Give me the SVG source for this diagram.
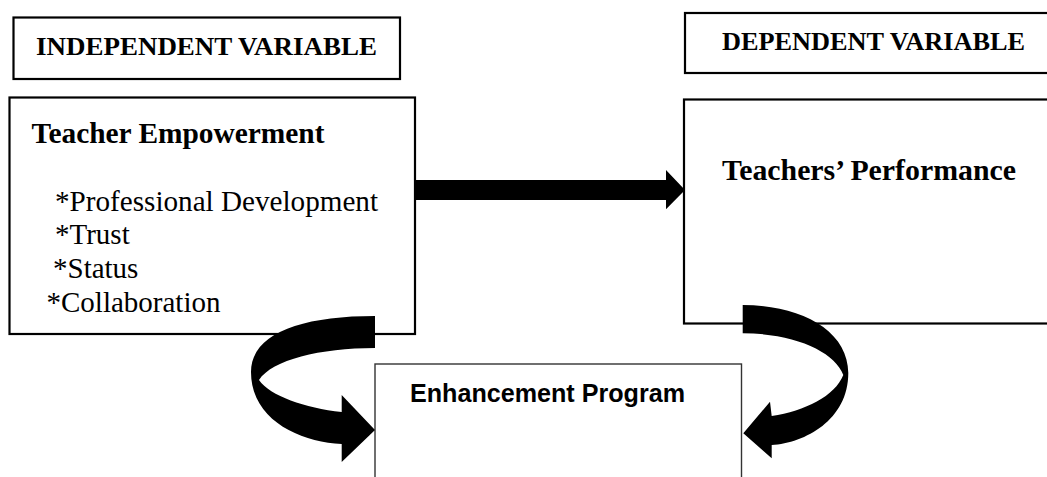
<svg xmlns="http://www.w3.org/2000/svg" width="1047" height="477" viewBox="0 0 1047 477">
<style>
.box{fill:#fff;stroke:#000;stroke-width:2.2}
.thin{fill:#fff;stroke:#333;stroke-width:1.4}
.hdr{font-family:"Liberation Serif","Times New Roman",serif;font-weight:bold;font-size:26px;fill:#000}
.ttl{font-family:"Liberation Serif","Times New Roman",serif;font-weight:bold;font-size:29px;fill:#000}
.itm{font-family:"Liberation Serif","Times New Roman",serif;font-size:29px;fill:#000}
.ep{font-family:"Liberation Sans",Arial,sans-serif;font-weight:bold;font-size:25px;fill:#000}
.arr{fill:#000;stroke:none}
</style>
<rect width="1047" height="477" fill="#fff"/>
<g id="iv-label">
<rect class="box" x="13.5" y="17.5" width="386.5" height="61.5"/>
<text class="hdr" x="36" y="55" textLength="341" lengthAdjust="spacingAndGlyphs">INDEPENDENT VARIABLE</text>
</g>
<g id="dv-label">
<rect class="box" x="685" y="13" width="380" height="60"/>
<text class="hdr" x="722" y="49.5" textLength="303" lengthAdjust="spacingAndGlyphs">DEPENDENT VARIABLE</text>
</g>
<g id="teacher-empowerment">
<rect class="box" x="9.5" y="97.5" width="405.5" height="236.5"/>
<text class="ttl" x="31.5" y="143.3" textLength="293" lengthAdjust="spacingAndGlyphs">Teacher Empowerment</text>
<text class="itm" x="55" y="210.7" textLength="323" lengthAdjust="spacingAndGlyphs">*Professional Development</text>
<text class="itm" x="55" y="243.5">*Trust</text>
<text class="itm" x="53" y="278">*Status</text>
<text class="itm" x="46.5" y="312">*Collaboration</text>
</g>
<g id="teachers-performance">
<rect class="box" x="684" y="99.5" width="380" height="224"/>
<text class="ttl" x="722" y="180" textLength="294" lengthAdjust="spacingAndGlyphs">Teachers’ Performance</text>
</g>
<g id="enhancement-program">
<rect class="thin" x="375" y="364" width="366.5" height="130"/>
<text class="ep" x="410" y="401.7" textLength="275" lengthAdjust="spacingAndGlyphs">Enhancement Program</text>
</g>
<g id="connectors">
<path class="arr" d="M415,180 L666,180 L666,170 L685,190 L666,209.3 L666,200 L415,200 Z"/>
<path class="arr" d="M375,316 C300,316 251,334 251,372 C251,420 300,442 341.7,444 L341.7,462 L375,430 L341.7,395 L341.7,412 C305,408 270,396 259,380 C272,360 320,348 375,348 Z"/>
<path class="arr" d="M742.7,305 C800,305 848.3,330 848.3,373 C848.3,420 805,443 771.7,445 L771.7,458.3 L743.3,433.3 L770,401.7 L771.7,416 C805,411 835,396 843.3,375 C835,352 795,333.3 742.7,333.3 Z"/>
</g>
</svg>
